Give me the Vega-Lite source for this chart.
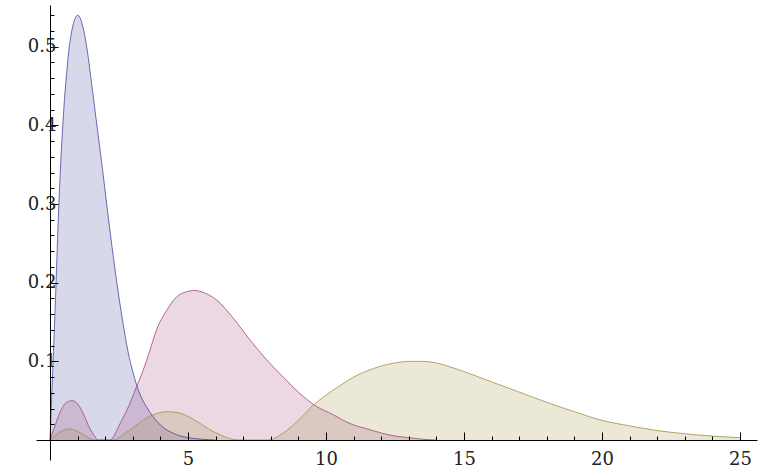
{
  "$schema": "https://vega.github.io/schema/vega-lite/v6.json",
  "width": 721,
  "height": 455,
  "autosize": "none",
  "padding": {"left": 36, "top": 5, "right": 2, "bottom": 16},
  "background": "white",
  "config": {"view": {"stroke": null}},
  "data": {"values": [
    {"s":"a","x":0,"y":0},{"s":"a","x":0.1,"y":0.09},{"s":"a","x":0.2,"y":0.18},{"s":"a","x":0.3,"y":0.28},{"s":"a","x":0.4,"y":0.36},{"s":"a","x":0.5,"y":0.42},{"s":"a","x":0.6,"y":0.465},{"s":"a","x":0.7,"y":0.5},{"s":"a","x":0.8,"y":0.522},{"s":"a","x":0.9,"y":0.535},{"s":"a","x":1.0,"y":0.54},{"s":"a","x":1.1,"y":0.536},{"s":"a","x":1.2,"y":0.524},{"s":"a","x":1.33,"y":0.5},{"s":"a","x":1.5,"y":0.455},{"s":"a","x":1.7,"y":0.4},{"s":"a","x":1.9,"y":0.345},{"s":"a","x":2.07,"y":0.295},{"s":"a","x":2.25,"y":0.245},{"s":"a","x":2.43,"y":0.198},{"s":"a","x":2.63,"y":0.152},{"s":"a","x":2.83,"y":0.112},{"s":"a","x":3.0,"y":0.087},{"s":"a","x":3.14,"y":0.07},{"s":"a","x":3.3,"y":0.055},{"s":"a","x":3.5,"y":0.042},{"s":"a","x":3.75,"y":0.029},{"s":"a","x":4.0,"y":0.019},{"s":"a","x":4.5,"y":0.008},{"s":"a","x":5.0,"y":0.003},{"s":"a","x":5.5,"y":0.001},{"s":"a","x":6.0,"y":0},
    {"s":"b","x":0,"y":0},{"s":"b","x":0.2,"y":0.02},{"s":"b","x":0.4,"y":0.038},{"s":"b","x":0.6,"y":0.048},{"s":"b","x":0.8,"y":0.05},{"s":"b","x":1.0,"y":0.046},{"s":"b","x":1.2,"y":0.034},{"s":"b","x":1.4,"y":0.018},{"s":"b","x":1.6,"y":0.006},{"s":"b","x":1.75,"y":0},{"s":"b","x":2.17,"y":0},{"s":"b","x":2.54,"y":0.021},{"s":"b","x":2.9,"y":0.047},{"s":"b","x":3.14,"y":0.068},{"s":"b","x":3.38,"y":0.089},{"s":"b","x":3.62,"y":0.114},{"s":"b","x":3.86,"y":0.14},{"s":"b","x":4.23,"y":0.165},{"s":"b","x":4.59,"y":0.182},{"s":"b","x":4.9,"y":0.188},{"s":"b","x":5.25,"y":0.19},{"s":"b","x":5.6,"y":0.187},{"s":"b","x":6.04,"y":0.178},{"s":"b","x":6.64,"y":0.155},{"s":"b","x":7.25,"y":0.127},{"s":"b","x":7.85,"y":0.102},{"s":"b","x":8.45,"y":0.08},{"s":"b","x":9.06,"y":0.059},{"s":"b","x":9.6,"y":0.044},{"s":"b","x":10.27,"y":0.032},{"s":"b","x":10.87,"y":0.021},{"s":"b","x":11.5,"y":0.014},{"s":"b","x":12.0,"y":0.009},{"s":"b","x":12.5,"y":0.005},{"s":"b","x":13.0,"y":0.003},{"s":"b","x":13.5,"y":0.001},{"s":"b","x":14.0,"y":0},
    {"s":"c","x":0,"y":0},{"s":"c","x":0.2,"y":0.006},{"s":"c","x":0.4,"y":0.011},{"s":"c","x":0.7,"y":0.014},{"s":"c","x":1.0,"y":0.011},{"s":"c","x":1.3,"y":0.005},{"s":"c","x":1.5,"y":0.001},{"s":"c","x":1.6,"y":0},{"s":"c","x":2.3,"y":0},{"s":"c","x":2.7,"y":0.008},{"s":"c","x":3.1,"y":0.018},{"s":"c","x":3.5,"y":0.028},{"s":"c","x":3.9,"y":0.034},{"s":"c","x":4.2,"y":0.036},{"s":"c","x":4.6,"y":0.035},{"s":"c","x":5.0,"y":0.03},{"s":"c","x":5.4,"y":0.022},{"s":"c","x":5.8,"y":0.013},{"s":"c","x":6.2,"y":0.006},{"s":"c","x":6.6,"y":0.001},{"s":"c","x":6.9,"y":0},{"s":"c","x":7.9,"y":0},{"s":"c","x":8.5,"y":0.01},{"s":"c","x":9.0,"y":0.025},{"s":"c","x":9.5,"y":0.043},{"s":"c","x":10.0,"y":0.057},{"s":"c","x":10.5,"y":0.069},{"s":"c","x":11.0,"y":0.08},{"s":"c","x":11.5,"y":0.088},{"s":"c","x":12.0,"y":0.094},{"s":"c","x":12.5,"y":0.098},{"s":"c","x":13.0,"y":0.1},{"s":"c","x":13.5,"y":0.1},{"s":"c","x":14.0,"y":0.098},{"s":"c","x":14.5,"y":0.093},{"s":"c","x":15.0,"y":0.087},{"s":"c","x":16.0,"y":0.074},{"s":"c","x":17.0,"y":0.061},{"s":"c","x":18.0,"y":0.048},{"s":"c","x":19.0,"y":0.036},{"s":"c","x":20.0,"y":0.025},{"s":"c","x":21.0,"y":0.018},{"s":"c","x":22.0,"y":0.012},{"s":"c","x":23.0,"y":0.008},{"s":"c","x":24.0,"y":0.005},{"s":"c","x":25.0,"y":0.003}
  ]},
  "encoding": {
    "color": {"field": "s", "type": "nominal", "legend": null,
      "scale": {"domain": ["a","b","c"], "range": ["#3d3d99","#993d74","#998b3d"]}}
  },
  "layer": [
    {"mark": {"type": "area", "interpolate": "monotone", "fillOpacity": 0.2, "stroke": null},
     "encoding": {
       "x": {"field": "x", "type": "quantitative",
         "scale": {"domain": [-0.507, 25.62], "nice": false, "zero": false},
         "axis": {"title": null, "orient": "bottom", "offset": -20, "zindex": 1, "grid": false,
           "values": [5,10,15,20,25], "labelOverlap": false, "labelFlush": false,
           "labelFont": "DejaVu Serif", "labelFontSize": 18, "labelColor": "#222",
           "labelPadding": 18,
           "domainColor": "black", "domainWidth": 1, "tickColor": "black", "tickWidth": 1, "tickSize": -8}},
       "y": {"field": "y", "type": "quantitative",
         "scale": {"domain": [-0.0254, 0.553], "nice": false, "zero": false},
         "axis": {"title": null, "orient": "left", "offset": -14, "zindex": 1, "grid": false,
           "values": [0.1,0.2,0.3,0.4,0.5], "format": ".1f", "labelOverlap": false, "labelFlush": false,
           "labelFont": "DejaVu Serif", "labelFontSize": 18, "labelColor": "#222",
           "labelPadding": 2,
           "domainColor": "black", "domainWidth": 1, "tickColor": "black", "tickWidth": 1, "tickSize": -8}},
       "y2": {"datum": 0}}},
    {"mark": {"type": "line", "interpolate": "monotone", "strokeWidth": 1, "opacity": 0.75},
     "encoding": {
       "x": {"field": "x", "type": "quantitative",
         "axis": {"title": null, "orient": "bottom", "offset": -20, "zindex": 1, "grid": false,
           "values": [1,2,3,4,6,7,8,9,11,12,13,14,16,17,18,19,21,22,23,24],
           "labels": false, "domain": false, "tickColor": "black", "tickWidth": 1, "tickSize": -4}},
       "y": {"field": "y", "type": "quantitative",
         "axis": {"title": null, "orient": "left", "offset": -14, "zindex": 1, "grid": false,
           "values": [0.02,0.04,0.06,0.08,0.12,0.14,0.16,0.18,0.22,0.24,0.26,0.28,0.32,0.34,0.36,0.38,0.42,0.44,0.46,0.48,0.52,0.54],
           "labels": false, "domain": false, "tickColor": "black", "tickWidth": 1, "tickSize": -4}}}}
  ],
  "resolve": {"axis": {"x": "independent", "y": "independent"}}
}
